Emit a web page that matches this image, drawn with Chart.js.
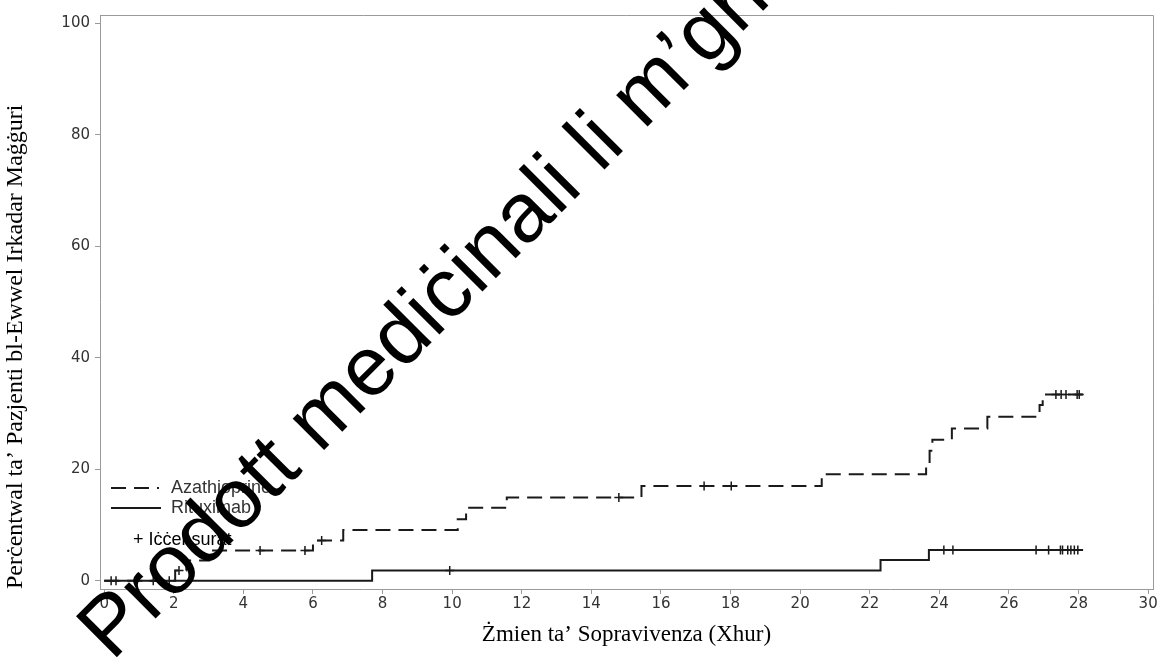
<!DOCTYPE html>
<html>
<head>
<meta charset="utf-8">
<script src="https://cdn.jsdelivr.net/npm/chart.js@4.4.0/dist/chart.umd.min.js"></script>
<style>
  html, body { margin: 0; padding: 0; background: #fff; }
  #wrap { width: 1159px; height: 657px; }
</style>
</head>
<body>
<div id="wrap"><canvas id="kmChart" width="1159" height="657"></canvas></div>
<script>
// tick labels
const xTicks = [0, 2, 4, 6, 8, 10, 12, 14, 16, 18, 20, 22, 24, 26, 28, 30];
const yTicks = [0, 20, 40, 60, 80, 100];

// Azathioprine - cumulative % with first major relapse (step points)
const azaTime = [0, 2.04, 2.36, 3.02, 6.00, 6.87, 10.16, 10.40, 11.57, 15.44, 20.62, 23.62, 23.72, 23.80, 24.36, 25.38, 26.88, 26.97, 28.13];
const azaPct  = [0, 1.8, 3.6, 5.4, 7.2, 9.1, 11.0, 13.1, 14.9, 17.0, 19.1, 21.0, 23.3, 25.3, 27.3, 29.4, 31.5, 33.4, 33.4];
const azaCensTime = [2.15, 4.48, 5.77, 6.25, 14.79, 17.24, 18.02, 27.35, 27.50, 27.64, 27.96, 28.02];
const azaCensPct  = [1.8, 5.4, 5.4, 7.2, 14.9, 17.0, 17.0, 33.4, 33.4, 33.4, 33.4, 33.4];

// Rituximab
const rituxTime = [0, 7.70, 22.31, 23.70, 28.13];
const rituxPct  = [0, 1.8, 3.7, 5.5, 5.5];
const rituxCensTime = [0.20, 0.34, 1.41, 1.87, 9.93, 24.13, 24.39, 26.78, 27.14, 27.48, 27.54, 27.69, 27.78, 27.88, 27.98];
const rituxCensPct  = [0, 0, 0, 0, 1.8, 5.5, 5.5, 5.5, 5.5, 5.5, 5.5, 5.5, 5.5, 5.5, 5.5];

const seriesNames = ['Azathioprine', 'Rituximab'];
const censorLabel = '+ Iċċensurat';
const xTitle = 'Żmien ta’ Sopravivenza (Xhur)';
const yTitle = 'Perċentwal ta’ Pazjenti bl-Ewwel Irkadar Maġġuri';
const watermark = 'Prodott mediċinali li m’għadux awtorizzat';

const lineColor = '#1a1a1a';
const axisColor = '#9a9a9a';

function toXY(xs, ys) {
  return xs.map((x, i) => ({ x: x, y: ys[i] }));
}

// box round the plot + legend inside the plot area
const framePlugin = {
  id: 'frame',
  afterDraw(chart) {
    const { ctx, chartArea: a } = chart;
    ctx.save();
    ctx.strokeStyle = axisColor;
    ctx.lineWidth = 1;
    ctx.beginPath();
    ctx.moveTo(a.left, a.top + 0.5);
    ctx.lineTo(a.right + 0.5, a.top + 0.5);
    ctx.lineTo(a.right + 0.5, a.bottom);
    ctx.stroke();

    // legend
    const lx = a.left + 11;
    const y1 = a.bottom - 101;
    const y2 = a.bottom - 81;
    ctx.strokeStyle = lineColor;
    ctx.lineWidth = 2;
    ctx.setLineDash([15, 8]);
    ctx.beginPath();
    ctx.moveTo(lx, y1);
    ctx.lineTo(lx + 48, y1);
    ctx.stroke();
    ctx.setLineDash([]);
    ctx.beginPath();
    ctx.moveTo(lx, y2);
    ctx.lineTo(lx + 50, y2);
    ctx.stroke();

    ctx.font = '18px "Liberation Sans", Arial, sans-serif';
    ctx.textBaseline = 'middle';
    ctx.fillStyle = '#333';
    ctx.fillText(seriesNames[0], a.left + 71, y1);
    ctx.fillText(seriesNames[1], a.left + 71, y2);
    ctx.fillStyle = '#000';
    ctx.fillText(censorLabel, a.left + 33, a.bottom - 49);
    ctx.restore();
  }
};

const watermarkPlugin = {
  id: 'watermark',
  afterDraw(chart) {
    const ctx = chart.ctx;
    ctx.save();
    ctx.translate(112, 662);
    ctx.rotate(-45 * Math.PI / 180);
    ctx.font = '84px "Liberation Sans", Arial, sans-serif';
    ctx.fillStyle = '#000';
    ctx.textBaseline = 'alphabetic';
    ctx.fillText(watermark, 0, 0);
    ctx.restore();
  }
};

const lineBase = {
  showLine: true,
  stepped: true,
  pointRadius: 0,
  borderColor: lineColor,
  borderWidth: 2,
  fill: false
};

const censBase = {
  showLine: false,
  pointStyle: 'cross',
  pointRadius: 4.5,
  pointBorderWidth: 1.5,
  borderColor: lineColor,
  pointBorderColor: lineColor
};

new Chart(document.getElementById('kmChart'), {
  type: 'scatter',
  data: {
    datasets: [
      Object.assign({ label: seriesNames[0], data: toXY(azaTime, azaPct), borderDash: [15, 8] }, lineBase),
      Object.assign({ label: seriesNames[1], data: toXY(rituxTime, rituxPct) }, lineBase),
      Object.assign({ label: 'aza-cens', data: toXY(azaCensTime, azaCensPct) }, censBase),
      Object.assign({ label: 'ritux-cens', data: toXY(rituxCensTime, rituxCensPct) }, censBase)
    ]
  },
  options: {
    responsive: false,
    devicePixelRatio: 1,
    animation: false,
    layout: { padding: { top: 15, right: 5, bottom: 0, left: 0 } },
    plugins: {
      legend: { display: false },
      tooltip: { enabled: false }
    },
    scales: {
      x: {
        type: 'linear',
        min: -0.12,
        max: 30.14,
        afterBuildTicks: s => { s.ticks = xTicks.map(v => ({ value: v })); },
        afterFit: s => { s.height = 68; },
        grid: { drawOnChartArea: false, drawTicks: true, tickLength: 5, color: axisColor },
        border: { color: axisColor },
        ticks: {
          color: '#333',
          font: { family: '"DejaVu Sans", sans-serif', size: 15 },
          padding: 1,
          maxRotation: 0,
          autoSkip: false
        },
        title: {
          display: true,
          text: xTitle,
          color: '#000',
          font: { family: '"Liberation Serif", "Times New Roman", serif', size: 23 },
          padding: { top: 0, bottom: 8 }
        }
      },
      y: {
        type: 'linear',
        min: -1.5,
        max: 101.5,
        afterBuildTicks: s => { s.ticks = yTicks.map(v => ({ value: v })); },
        afterFit: s => { s.width = 100; },
        grid: { drawOnChartArea: false, drawTicks: true, tickLength: 5, color: axisColor },
        border: { color: axisColor },
        ticks: {
          color: '#333',
          font: { family: '"DejaVu Sans", sans-serif', size: 15 },
          padding: 5,
          autoSkip: false
        },
        title: {
          display: true,
          text: yTitle,
          align: 'start',
          color: '#000',
          font: { family: '"Liberation Serif", "Times New Roman", serif', size: 24 },
          padding: { top: 1, bottom: 0 }
        }
      }
    }
  },
  plugins: [framePlugin, watermarkPlugin]
});
</script>
</body>
</html>
